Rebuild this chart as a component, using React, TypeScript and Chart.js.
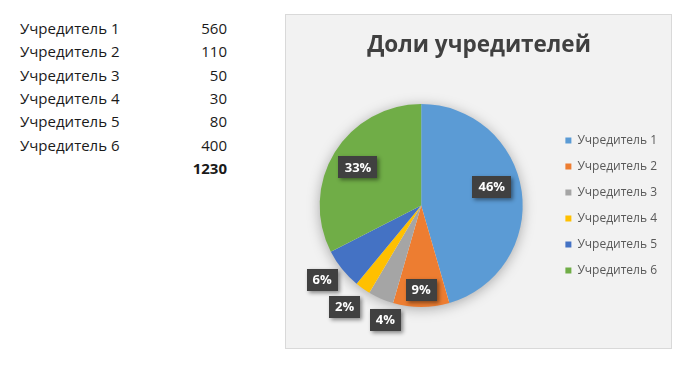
import React, { useEffect, useRef } from "react";
import { Chart, registerables } from "chart.js";

Chart.register(...registerables);

const categories = ["Учредитель 1", "Учредитель 2", "Учредитель 3", "Учредитель 4", "Учредитель 5", "Учредитель 6"];
const values = [560, 110, 50, 30, 80, 400];
const colors = ["#5B9BD5", "#ED7D31", "#A5A5A5", "#FFC000", "#4472C4", "#70AD47"];
const chartTitle = "Доли учредителей";

// label placement (fraction of radius, angle nudge in degrees)
const labelRadius = [0.72, 0.83, 1.18, 1.25, 1.22, 0.73];
const labelAngleShift = [-7, 0, -6, 2, 2, 0];

function percentLabels(vals: number[]): string[] {
  const total = vals.reduce((a, b) => a + b, 0);
  const raw = vals.map((v) => (v / total) * 100);
  const floors = raw.map((r) => Math.floor(r));
  let rest = 100 - floors.reduce((a, b) => a + b, 0);
  const order = raw.map((r, i) => ({ i, rem: r - Math.floor(r) })).sort((a, b) => b.rem - a.rem);
  for (let k = 0; k < order.length && rest > 0; k++, rest--) floors[order[k].i] += 1;
  return floors.map((f) => f + "%");
}

const pieShadow = {
  id: "pieShadow",
  beforeDatasetsDraw(chart: any) {
    const meta = chart.getDatasetMeta(0);
    if (!meta.data.length) return;
    const { x, y, outerRadius } = meta.data[0].getProps(["x", "y", "outerRadius"], true);
    const ctx = chart.ctx;
    ctx.save();
    ctx.shadowColor = "rgba(0,0,0,0.35)";
    ctx.shadowBlur = 14;
    ctx.shadowOffsetX = 0;
    ctx.shadowOffsetY = 2;
    ctx.beginPath();
    ctx.arc(x, y, outerRadius - 1, 0, Math.PI * 2);
    ctx.fillStyle = "#f2f2f2";
    ctx.fill();
    ctx.restore();
  },
};

const boxLabels = {
  id: "boxLabels",
  afterDatasetsDraw(chart: any) {
    const meta = chart.getDatasetMeta(0);
    const texts = percentLabels(values);
    const ctx = chart.ctx;
    ctx.save();
    ctx.font = "bold 13px 'Open Sans', sans-serif";
    ctx.textAlign = "center";
    ctx.textBaseline = "middle";
    meta.data.forEach((arc: any, i: number) => {
      const { x, y, startAngle, endAngle, outerRadius } = arc.getProps(
        ["x", "y", "startAngle", "endAngle", "outerRadius"],
        true
      );
      const mid = (startAngle + endAngle) / 2 + (labelAngleShift[i] * Math.PI) / 180;
      const r = outerRadius * labelRadius[i];
      const px = x + Math.cos(mid) * r;
      const py = y + Math.sin(mid) * r;
      const tw = ctx.measureText(texts[i]).width;
      const w = Math.round(tw + 12);
      const h = 22;
      ctx.save();
      ctx.shadowColor = "rgba(0,0,0,0.45)";
      ctx.shadowBlur = 4;
      ctx.shadowOffsetX = 2;
      ctx.shadowOffsetY = 2;
      ctx.fillStyle = "#404040";
      ctx.fillRect(Math.round(px - w / 2), Math.round(py - h / 2), w, h);
      ctx.restore();
      ctx.fillStyle = "#ffffff";
      ctx.fillText(texts[i], px, py + 1);
    });
    ctx.restore();
  },
};

function PieChart() {
  const ref = useRef<HTMLCanvasElement | null>(null);
  useEffect(() => {
    if (!ref.current) return;
    const chart = new Chart(ref.current, {
      type: "pie",
      data: {
        labels: categories,
        datasets: [{ data: values, backgroundColor: colors, borderWidth: 0 }],
      },
      options: {
        responsive: false,
        animation: false,
        devicePixelRatio: 1,
        layout: { padding: { top: 0, left: 5, right: 4, bottom: 41 } },
        plugins: {
          title: {
            display: true,
            text: chartTitle,
            color: "#404040",
            font: { family: "'Open Sans', sans-serif", size: 22.5, weight: "bold" },
            padding: { top: 17, bottom: 45 },
          },
          legend: {
            position: "right",
            fullSize: false,
            labels: {
              boxWidth: 6,
              boxHeight: 6,
              padding: 14,
              color: "#595959",
              font: { family: "'Open Sans', sans-serif", size: 12 },
            },
          },
          tooltip: { enabled: false },
        },
      },
      plugins: [pieShadow, boxLabels],
    } as any);
    return () => chart.destroy();
  }, []);
  return <canvas ref={ref} width={385} height={333} style={{ display: "block" }} />;
}

export default function App() {
  const total = values.reduce((a, b) => a + b, 0);
  const rowStyle: React.CSSProperties = {
    position: "absolute",
    left: 20,
    width: 207,
    height: 23,
    lineHeight: "23px",
    fontFamily: "'Open Sans', sans-serif",
    fontSize: 15,
    color: "#1a1a1a",
  };
  return (
    <div style={{ position: "absolute", left: 0, top: 0, width: 680, height: 366, background: "#fff", overflow: "hidden" }}>
      {categories.map((c, i) => (
        <div key={c} style={{ ...rowStyle, top: 17 + i * 23.3 }}>
          <span>{c}</span>
          <span style={{ position: "absolute", right: 0 }}>{values[i]}</span>
        </div>
      ))}
      <div style={{ ...rowStyle, top: 17 + 6 * 23.3, fontWeight: "bold" }}>
        <span style={{ position: "absolute", right: 0 }}>{total}</span>
      </div>
      <div
        style={{
          position: "absolute",
          left: 285,
          top: 14,
          width: 387,
          height: 335,
          boxSizing: "border-box",
          border: "1px solid #d9d9d9",
          background: "#f2f2f2",
        }}
      >
        <PieChart />
      </div>
    </div>
  );
}
